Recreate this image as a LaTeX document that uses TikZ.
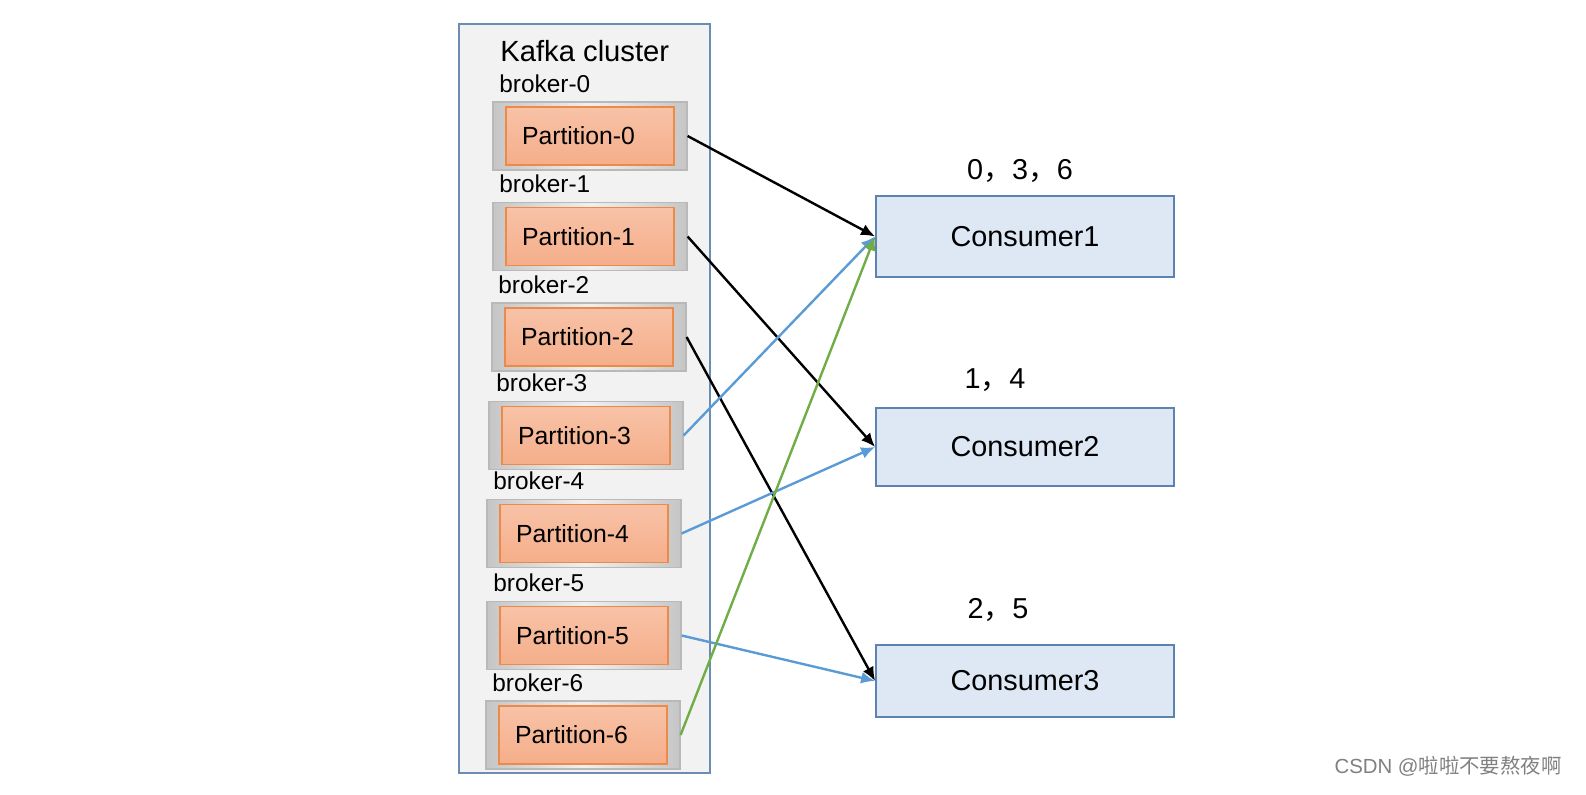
\documentclass[tikz,border=0pt]{standalone}
\usepackage{fontspec}
\setmainfont{Liberation Sans}
\newfontfamily\cjk{Noto Sans CJK SC}
\usetikzlibrary{calc,arrows.meta}
\definecolor{clusterfill}{HTML}{F2F2F2}
\definecolor{clusterline}{HTML}{6A8CB5}
\definecolor{partfill}{HTML}{F5AE8A}
\definecolor{partline}{HTML}{EE8A48}
\definecolor{consfill}{HTML}{DEE8F5}
\definecolor{consline}{HTML}{5B82B0}
\definecolor{blueline}{HTML}{5B9BD5}
\definecolor{greenline}{HTML}{70AD47}
\tikzset{
  brokerbox/.style={draw=gray!55,line width=0.6pt,left color=gray!45,right color=gray!45,
    middle color=gray!12,minimum width=97pt,minimum height=34pt,inner sep=0pt},
  partbox/.style={draw=partline,line width=0.6pt,top color=partfill!75!white,bottom color=partfill,
    minimum width=84pt,minimum height=29pt,inner xsep=8pt,text width=68pt,align=left,
    font=\fontsize{12.4}{14}\selectfont},
  consbox/.style={draw=consline,fill=consfill,line width=0.9pt,minimum width=149pt,
    font=\fontsize{14.4}{17}\selectfont},
  flow/.style={line width=1.2pt,-{Latex[length=7pt,width=6pt]}}
}
\newcommand{\partition}[5]{%
  % broker label above, gray frame, orange partition
  \node[anchor=west,inner sep=0pt,font=\fontsize{12.2}{14}\selectfont] (b#1) at (#4,#5) {broker-#1};%
  \node[brokerbox] (p#1) at (#2,#3) {};%
  \node[partbox] (q#1) at (#2,#3) {Partition-#1};%
}

\begin{document}
\begin{tikzpicture}[x=0.5pt,y=-0.5pt]
  \useasboundingbox (0,0) rectangle (1586,795);

  % cluster
  \draw[clusterline,fill=clusterfill,line width=1pt] (459,24) rectangle (710,773);
  \node[anchor=west,inner sep=0pt,font=\fontsize{14.6}{17}\selectfont] (title) at (500,51) {Kafka cluster};

  \foreach \i/\x/\y/\bx/\by in {0/590/136/499/84, 1/590/236.5/499/184, 2/589/337/498/285,
      3/586/435.5/496/383, 4/584/533.5/493/481, 5/584/635.5/493/583, 6/583/735/492/683}{
    \partition{\i}{\x}{\y}{\bx}{\by}
  }

  % consumers
  \node[consbox,minimum height=40.5pt] (c1) at (1025,236.5) {Consumer1};
  \node[consbox,minimum height=39pt] (c2) at (1025,447) {Consumer2};
  \node[consbox,minimum height=36pt] (c3) at (1025,681) {Consumer3};

  \node[font=\fontsize{14.4}{17}\selectfont] (l1) at (1020,171) {0{\cjk ，}3{\cjk ，}6};
  \node[font=\fontsize{14.4}{17}\selectfont] (l2) at (995,380) {1{\cjk ，}4};
  \node[font=\fontsize{14.4}{17}\selectfont] (l3) at (998,610) {2{\cjk ，}5};

  % assignments
  \draw[flow,black] (p0.east) -- (c1.west);
  \draw[flow,black] (p1.east) -- (c2.west);
  \draw[flow,black] (p2.east) -- (c3.west);
  \draw[flow,blueline] (p3.east) -- (c1.west);
  \draw[flow,blueline] (p4.east) -- (c2.west);
  \draw[flow,blueline] (p5.east) -- (c3.west);
  \draw[flow,greenline] (p6.east) -- (c1.west);

  \node[gray,font=\fontsize{10.2}{12}\selectfont] (mark) at (1448,766) {CSDN @{\cjk 啦啦不要熬夜啊}};
\end{tikzpicture}
\end{document}
